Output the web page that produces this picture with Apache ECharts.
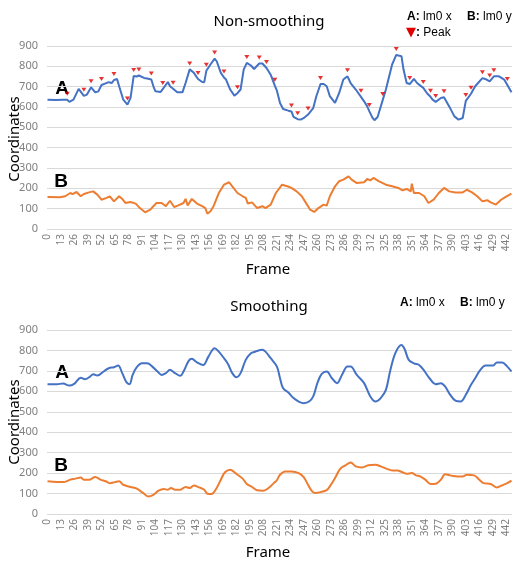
<!DOCTYPE html>
<html><head><meta charset="utf-8">
<script src="https://cdn.jsdelivr.net/npm/echarts@6/dist/echarts.min.js"></script>
<style>html,body{margin:0;padding:0;background:#fff}#c{width:524px;height:565px}</style>
</head><body><div id="c"></div>
<script>
// ---- data ----
const frameCount = 448;
const frames = Array.from({length: frameCount}, (_, i) => String(i));
const yTicks = [0, 100, 200, 300, 400, 500, 600, 700, 800, 900];

// Non-smoothing, A: lm0 x
const rawAFrames = [0,8,15,19,21,25,30,35,38,42,46,49,52,56,59,62,64,67,69,73,77,80,83,86,88,93,96,100,102,104,109,111,116,118,121,125,130,133,137,141,145,149,151,153,157,161,163,167,170,172,176,180,183,186,189,192,196,199,204,207,211,215,219,221,224,227,232,235,237,241,244,247,251,256,259,263,266,269,272,277,281,285,289,292,297,302,305,308,310,313,315,318,323,326,332,336,341,343,346,349,353,356,362,366,369,371,374,379,382,387,392,396,400,403,408,412,419,423,426,430,435,440,443,447];
const rawAValues = [636,634,636,636,625,636,689,655,661,697,672,677,708,716,722,718,733,738,702,636,612,645,752,750,755,743,740,735,702,677,674,688,723,702,690,672,672,718,785,768,738,723,722,778,809,838,825,768,745,735,686,656,668,686,784,817,804,787,814,814,792,759,705,680,620,590,582,578,551,540,538,546,563,595,653,713,713,702,653,620,669,735,751,718,686,650,628,603,580,548,535,551,635,686,809,856,850,784,718,713,738,718,694,665,650,636,625,644,648,603,554,538,546,630,665,702,742,735,726,751,751,735,708,672];

// Non-smoothing, B: lm0 y
const rawBFrames = [0,12,17,22,24,28,32,35,40,44,48,52,57,60,64,69,72,75,80,85,89,94,99,102,105,110,114,118,122,126,131,133,135,139,144,149,152,154,157,160,165,170,175,178,183,188,191,193,197,202,207,210,215,220,226,231,235,240,245,250,253,257,261,266,269,272,277,281,285,290,293,298,305,308,311,314,319,326,332,338,342,346,350,351,353,358,363,367,372,377,382,387,393,400,404,409,414,419,424,427,432,437,441,447];
const rawBValues = [157,156,161,177,172,182,161,172,180,185,169,144,153,161,136,161,148,128,133,125,103,82,95,112,128,128,112,139,108,116,128,148,116,148,125,112,103,75,87,112,177,218,230,210,177,161,153,125,131,103,112,103,120,177,218,210,202,185,161,120,95,84,103,120,115,161,210,235,243,259,243,226,230,246,239,251,235,218,210,202,190,197,185,223,177,177,161,128,144,177,202,185,180,180,193,180,161,136,141,131,120,144,157,174];

// Peaks (on the non-smoothing A line)
const peakFrames = [19,35,42,52,64,77,83,88,100,111,121,137,145,153,161,170,183,192,204,211,219,235,241,251,263,289,302,310,323,336,349,362,369,374,382,403,408,419,426,430,443];
const peakValues = [636,655,697,708,733,612,752,755,735,688,690,785,738,778,838,745,668,817,814,792,705,578,540,563,713,751,650,580,635,856,713,694,650,625,648,630,665,742,726,751,708];

// Smoothing, A: lm0 x
const smAFrames = [0,9,15,21,26,32,36,41,44,48,54,59,64,68,72,76,79,82,86,91,96,101,106,110,114,118,122,128,131,136,139,144,150,155,161,165,170,174,178,182,186,191,196,200,207,210,215,221,224,227,232,237,242,247,252,256,260,264,269,274,279,284,289,292,298,305,311,316,321,326,330,335,341,344,348,353,358,363,368,374,379,383,388,393,398,403,408,412,417,422,429,433,438,443,447];
const smAValues = [635,635,638,628,638,667,659,672,684,677,697,713,718,726,689,645,635,680,718,737,737,721,697,680,689,705,692,676,697,749,759,742,729,770,811,794,762,733,689,669,689,754,786,794,803,794,762,721,664,615,594,567,550,542,550,575,640,684,697,664,640,684,721,721,680,640,575,550,567,607,697,786,827,807,754,737,729,700,664,635,640,624,583,554,550,583,632,664,705,726,726,741,741,721,697];

// Smoothing, B: lm0 y
const smBFrames = [0,9,15,22,27,32,35,40,46,51,56,60,65,69,73,80,86,92,97,102,107,112,116,119,123,128,133,137,141,146,151,154,158,162,167,171,176,181,188,192,197,202,208,213,218,221,224,229,235,242,247,251,255,258,263,269,272,277,282,287,292,297,303,309,316,321,327,332,337,342,346,351,355,359,364,369,374,379,383,388,395,400,404,411,416,420,427,433,438,443,447];
const smBValues = [160,156,156,168,173,179,168,168,181,168,160,151,156,160,143,132,124,103,86,94,114,122,119,127,119,119,132,127,140,130,119,99,98,119,168,204,217,200,173,147,132,116,114,127,151,165,192,208,208,200,179,143,111,103,107,117,135,176,221,238,252,233,228,238,241,233,221,213,213,204,197,200,189,184,168,147,148,168,195,189,184,184,192,189,168,151,147,130,140,151,163];

// ---- build ----
const zip = (f, v) => f.map((x, i) => [x, v[i]]);
const BLUE = '#4472C4', ORANGE = '#ED7D31', GRID = '#d9d9d9', LAB = '#7f7f7f';
const FONT = 'Noto Sans';

function xAxis(gi) {
  return {
    type: 'category', gridIndex: gi, data: frames, boundaryGap: true,
    axisLine: {show: false}, axisTick: {show: false}, splitLine: {show: false},
    axisLabel: {interval: 12, rotate: 90, fontSize: 10, color: LAB, margin: 5, fontFamily: FONT}
  };
}
function yAxis(gi) {
  return {
    type: 'value', gridIndex: gi, min: yTicks[0], max: yTicks[yTicks.length - 1], interval: 100,
    axisLine: {show: false}, axisTick: {show: false},
    splitLine: {lineStyle: {color: GRID, width: 1}},
    axisLabel: {fontSize: 11, color: LAB, margin: 9, fontFamily: FONT}
  };
}
function line(gi, data, color, smooth) {
  return {
    type: 'line', xAxisIndex: gi, yAxisIndex: gi, data: data, smooth: smooth ? 0.35 : false,
    showSymbol: false, symbol: 'none', lineStyle: {color: color, width: 2}, itemStyle: {color: color},
    animation: false
  };
}
function txt(x, y, text, style) {
  return {type: 'text', x: x, y: y, style: Object.assign({text: text, fill: '#000'}, style)};
}
const legendRich = {b: {fontWeight: 'bold', fontSize: 12, fontFamily: 'Liberation Sans', fill: '#000'},
                    n: {fontSize: 12, fontFamily: 'Liberation Sans', fill: '#000'},
                    r: {fontSize: 13, fontFamily: 'DejaVu Sans', fill: '#e00000'}};

const chart = echarts.init(document.getElementById('c'), null, {renderer: 'canvas'});
chart.setOption({
  animation: false,
  backgroundColor: '#fff',
  grid: [
    {left: 47, right: 12, top: 46, height: 183},
    {left: 47, right: 12, top: 330, height: 184}
  ],
  xAxis: [xAxis(0), xAxis(1)],
  yAxis: [yAxis(0), yAxis(1)],
  series: [
    line(0, zip(rawAFrames, rawAValues), BLUE, false),
    line(0, zip(rawBFrames, rawBValues), ORANGE, false),
    {
      type: 'scatter', xAxisIndex: 0, yAxisIndex: 0, data: zip(peakFrames, peakValues),
      symbol: 'triangle', symbolRotate: 180, symbolSize: [5, 4], symbolOffset: [0, -6],
      itemStyle: {color: '#e00000'}, z: 5, animation: false
    },
    line(1, zip(smAFrames, smAValues), BLUE, true),
    line(1, zip(smBFrames, smBValues), ORANGE, true)
  ],
  graphic: [
    txt(269, 22, 'Non-smoothing', {font: '15px "Noto Sans"', textAlign: 'center', textVerticalAlign: 'middle'}),
    txt(269, 307, 'Smoothing', {font: '15px "Noto Sans"', textAlign: 'center', textVerticalAlign: 'middle'}),
    txt(268, 270, 'Frame', {font: '15px "Noto Sans"', textAlign: 'center', textVerticalAlign: 'middle'}),
    txt(268, 553, 'Frame', {font: '15px "Noto Sans"', textAlign: 'center', textVerticalAlign: 'middle'}),
    {type: 'text', x: 15, y: 139, rotation: Math.PI / 2,
     style: {text: 'Coordinates', font: '15px "Noto Sans"', fill: '#000', textAlign: 'center', textVerticalAlign: 'middle'}},
    {type: 'text', x: 15, y: 422, rotation: Math.PI / 2,
     style: {text: 'Coordinates', font: '15px "Noto Sans"', fill: '#000', textAlign: 'center', textVerticalAlign: 'middle'}},
    txt(62, 89, 'A', {font: 'bold 19px "Liberation Sans"', textAlign: 'center', textVerticalAlign: 'middle'}),
    txt(61, 182, 'B', {font: 'bold 19px "Liberation Sans"', textAlign: 'center', textVerticalAlign: 'middle'}),
    txt(62, 373, 'A', {font: 'bold 19px "Liberation Sans"', textAlign: 'center', textVerticalAlign: 'middle'}),
    txt(61, 466, 'B', {font: 'bold 19px "Liberation Sans"', textAlign: 'center', textVerticalAlign: 'middle'}),
    txt(407, 17, '{b|A:} {n|lm0 x}', {rich: legendRich, textVerticalAlign: 'middle'}),
    txt(467, 17, '{b|B:} {n|lm0 y}', {rich: legendRich, textVerticalAlign: 'middle'}),
    txt(406, 33, '{r|▼}{b|:} {n|Peak}', {rich: legendRich, textVerticalAlign: 'middle'}),
    txt(400, 303, '{b|A:} {n|lm0 x}', {rich: legendRich, textVerticalAlign: 'middle'}),
    txt(460, 303, '{b|B:} {n|lm0 y}', {rich: legendRich, textVerticalAlign: 'middle'})
  ]
});
</script>
</body></html>
